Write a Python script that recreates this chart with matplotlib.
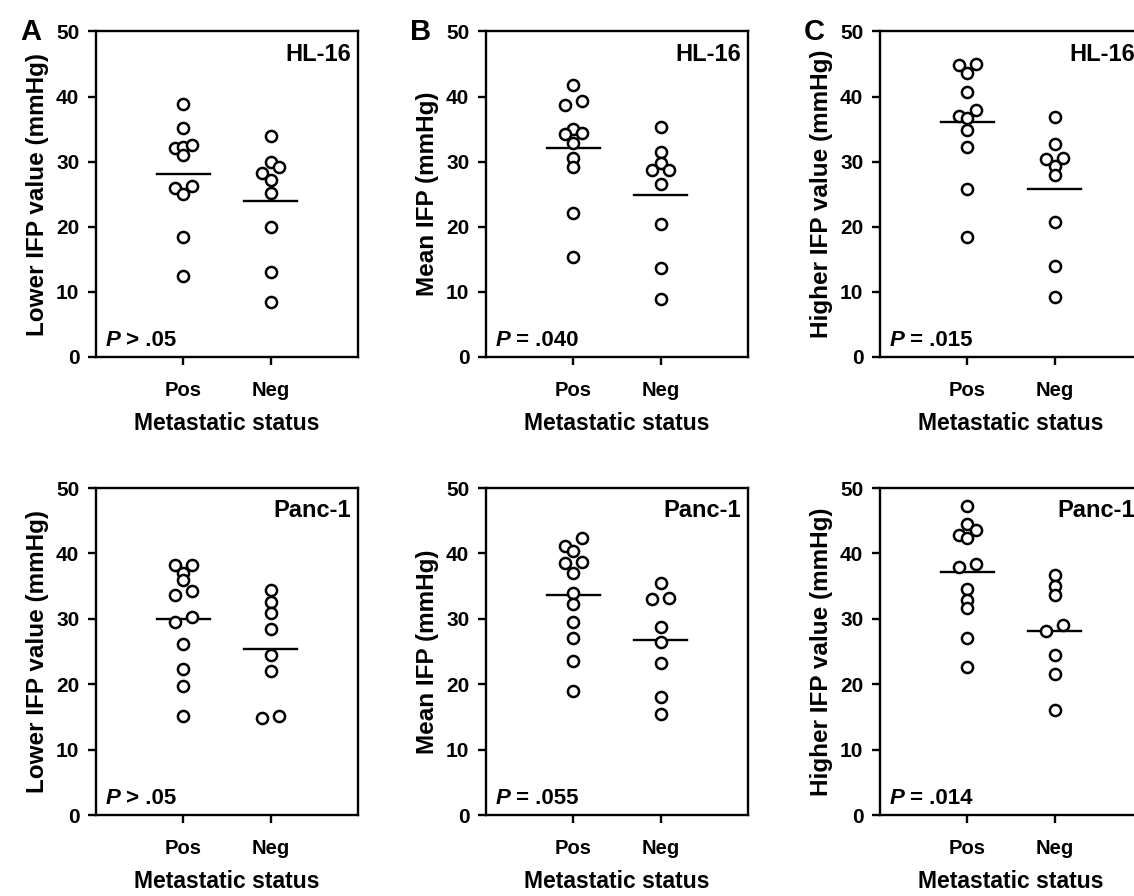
import numpy as np
import matplotlib
matplotlib.use("Agg")
import matplotlib.pyplot as plt

plt.rcParams['font.family'] = ['Liberation Sans', 'DejaVu Sans']
plt.rcParams['font.weight'] = 'bold'

# ---------------- data ----------------
categories = ['Pos', 'Neg']
cell_lines = ['HL-16', 'Panc-1']
panel_letters = ['A', 'B', 'C']
ylabels = ['Lower IFP value (mmHg)', 'Mean IFP (mmHg)', 'Higher IFP value (mmHg)']
xlabel = 'Metastatic status'
yticks = [0, 10, 20, 30, 40, 50]

hl16_lower_pos = [38.8, 35.1, 32.1, 32.2, 32.5, 31.1, 25.9, 26.2, 25.0, 18.4, 12.4]
hl16_lower_neg = [34.0, 30.0, 29.2, 28.2, 27.2, 25.2, 19.9, 13.0, 8.4]
hl16_mean_pos = [41.8, 39.4, 38.7, 35.0, 34.2, 34.4, 32.8, 30.5, 29.2, 22.1, 15.4]
hl16_mean_neg = [35.4, 31.5, 29.8, 28.8, 28.8, 26.6, 20.5, 13.6, 8.9]
hl16_higher_pos = [44.9, 45.0, 43.6, 40.7, 37.0, 38.0, 36.7, 34.9, 32.3, 25.8, 18.4]
hl16_higher_neg = [36.8, 32.7, 30.4, 30.5, 29.4, 28.0, 20.8, 14.0, 9.2]

panc1_lower_pos = [38.2, 38.2, 37.0, 36.0, 33.7, 34.2, 29.5, 30.2, 26.2, 22.4, 19.8, 15.1]
panc1_lower_neg = [34.4, 32.6, 30.9, 28.5, 24.5, 22.0, 14.8, 15.1]
panc1_mean_pos = [42.3, 41.2, 40.4, 38.6, 38.7, 37.0, 33.9, 32.3, 29.5, 27.1, 23.6, 19.0]
panc1_mean_neg = [35.5, 33.0, 33.2, 28.8, 26.4, 23.2, 18.1, 15.5]
panc1_higher_pos = [47.2, 44.5, 42.8, 43.6, 42.3, 37.9, 38.4, 34.6, 32.9, 31.7, 27.1, 22.7]
panc1_higher_neg = [36.7, 35.0, 33.7, 28.1, 29.0, 24.5, 21.5, 16.0]

p_values_hl16 = ['> .05', '= .040', '= .015']
p_values_panc1 = ['> .05', '= .055', '= .014']

# side-by-side placement of overlapping circles (-1 left, 0 centre, +1 right)
hl16_lower_pos_side = [0, 0, -1, 0, 1, 0, -1, 1, 0, 0, 0]
hl16_lower_neg_side = [0, 0, 1, -1, 0, 0, 0, 0, 0]
hl16_mean_pos_side = [0, 1, -1, 0, -1, 1, 0, 0, 0, 0, 0]
hl16_mean_neg_side = [0, 0, 0, -1, 1, 0, 0, 0, 0]
hl16_higher_pos_side = [-1, 1, 0, 0, -1, 1, 0, 0, 0, 0, 0]
hl16_higher_neg_side = [0, 0, -1, 1, 0, 0, 0, 0, 0]
panc1_lower_pos_side = [-1, 1, 0, 0, -1, 1, -1, 1, 0, 0, 0, 0]
panc1_lower_neg_side = [0, 0, 0, 0, 0, 0, -1, 1]
panc1_mean_pos_side = [1, -1, 0, -1, 1, 0, 0, 0, 0, 0, 0, 0]
panc1_mean_neg_side = [0, -1, 1, 0, 0, 0, 0, 0]
panc1_higher_pos_side = [0, 0, -1, 1, 0, -1, 1, 0, 0, 0, 0, 0]
panc1_higher_neg_side = [0, 0, 0, -1, 1, 0, 0, 0]

grid_data = [
    [(hl16_lower_pos, hl16_lower_neg), (hl16_mean_pos, hl16_mean_neg), (hl16_higher_pos, hl16_higher_neg)],
    [(panc1_lower_pos, panc1_lower_neg), (panc1_mean_pos, panc1_mean_neg), (panc1_higher_pos, panc1_higher_neg)],
]
grid_side = [
    [(hl16_lower_pos_side, hl16_lower_neg_side), (hl16_mean_pos_side, hl16_mean_neg_side),
     (hl16_higher_pos_side, hl16_higher_neg_side)],
    [(panc1_lower_pos_side, panc1_lower_neg_side), (panc1_mean_pos_side, panc1_mean_neg_side),
     (panc1_higher_pos_side, panc1_higher_neg_side)],
]
grid_p = [p_values_hl16, p_values_panc1]

# ---------------- layout ----------------
W, H = 1134, 896
fig = plt.figure(figsize=(W / 100, H / 100), dpi=100)

lefts_px = [96, 486, 880]
width_px = 262
rows_px = [(31.5, 357), (488, 815)]  # (top, bottom)

step = 0.10
for r in range(2):
    top, bot = rows_px[r]
    for c in range(3):
        ax = fig.add_axes([lefts_px[c] / W, 1 - bot / H, width_px / W, (bot - top) / H])
        pos_vals, neg_vals = grid_data[r][c]
        pos_side, neg_side = grid_side[r][c]
        for i, (vals, side) in enumerate([(pos_vals, pos_side), (neg_vals, neg_side)]):
            xc = i + 1
            xs = xc + step * np.array(side)
            ax.plot(xs, vals, 'o', ls='none', ms=8, mfc='white', mec='black', mew=1.8, zorder=3)
            m = np.mean(vals)
            ax.plot([xc - 0.3, xc + 0.3], [m, m], color='black', lw=1.7, zorder=2)
        ax.set_xlim(0, 3)
        ax.set_ylim(0, 50)
        ax.set_yticks(yticks)
        ax.set_xticks([1, 2])
        ax.set_xticklabels(categories)
        for s in ax.spines.values():
            s.set_linewidth(1.7)
        ax.tick_params(axis='y', direction='out', length=6, width=1.7, labelsize=15, pad=6)
        ax.tick_params(axis='x', direction='out', length=6, width=1.7, labelsize=14.5, pad=11)
        for lab in ax.get_xticklabels() + ax.get_yticklabels():
            lab.set_fontweight('bold')
        ax.set_xlabel(xlabel, fontsize=16.5, fontweight='bold', labelpad=9)
        ax.set_ylabel(ylabels[c], fontsize=17.5, fontweight='bold', labelpad=5)
        ax.text(0.975, 0.965, cell_lines[r], transform=ax.transAxes, ha='right', va='top',
                fontsize=17, fontweight='bold')
        pt = ax.text(0.035, 0.018, 'P', transform=ax.transAxes, ha='left', va='bottom',
                     fontsize=16, fontweight='bold', fontstyle='italic')
        ax.annotate(' ' + grid_p[r][c], xy=(1, 0), xycoords=pt, ha='left', va='bottom',
                    fontsize=16, fontweight='bold')
        if r == 0:
            ax.text(-0.29, 1.0, panel_letters[c], transform=ax.transAxes, ha='left', va='center',
                    fontsize=21, fontweight='bold')

fig.savefig('out.png', dpi=100)
